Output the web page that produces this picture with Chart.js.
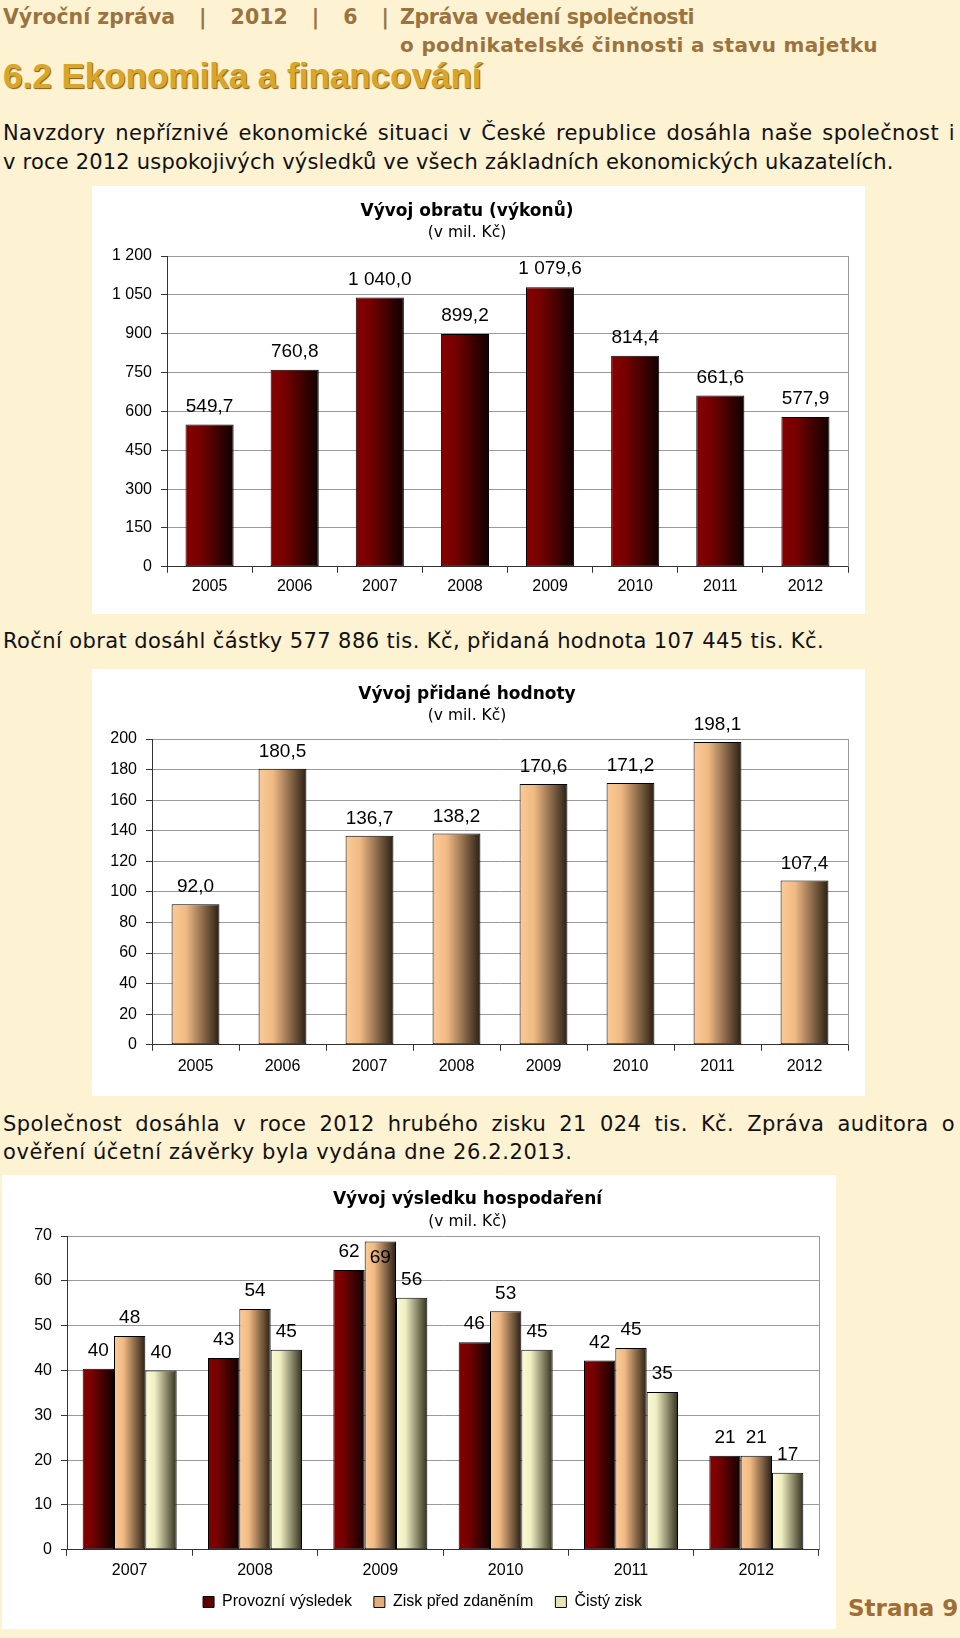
<!DOCTYPE html>
<html lang="cs">
<head>
<meta charset="utf-8">
<title>Výroční zpráva 2012 – Ekonomika a financování</title>
<script src="https://cdn.jsdelivr.net/npm/chart.js@4.4.1/dist/chart.umd.min.js"></script>
<style>
  html, body { margin: 0; padding: 0; }
  body {
    width: 960px; height: 1638px; position: relative; overflow: hidden;
    background: #fdf2d2; color: #111;
    font-family: 'DejaVu Sans', Verdana, sans-serif;
  }
  .line { position: absolute; white-space: nowrap; }
  .head { font-weight: bold; color: #9a7440; font-size: 20.5px; line-height: 24px; }
  .sect { font-family: 'Liberation Sans', Arial, sans-serif; font-weight: bold; color: #d9a62b;
          font-size: 35px; line-height: 40px; text-shadow: 1px 1px 1px #7d5c14; }
  .txt { font-size: 21px; line-height: 26px; letter-spacing: 0.4px; }
  .just { text-align: justify; text-align-last: justify; white-space: normal; }
  .keep { display: inline-block; }
  .page { font-weight: bold; color: #a06d35; font-size: 23px; line-height: 28px; }
  .box { position: absolute; background: #fff; }
  .box canvas { display: block; }
</style>
</head>
<body>
<div class="line head just" style="left:3px; top:5px; width:386px;"><span class="keep">Výroční zpráva</span> | 2012 | 6 |</div>
<div class="line head" style="left:400px; top:5px; letter-spacing:-0.4px;">Zpráva vedení společnosti</div>
<div class="line head" style="left:400px; top:33px; font-size:20px; letter-spacing:0.35px;">o podnikatelské činnosti a stavu majetku</div>
<div class="line sect" style="left:3px; top:56px;">6.2 Ekonomika a financování</div>

<div class="line txt just" style="left:3px; top:120px; width:952px;">Navzdory nepříznivé ekonomické situaci v České republice dosáhla naše společnost i</div>
<div class="line txt" style="left:3px; top:149px; letter-spacing:0.2px;">v roce 2012 uspokojivých výsledků ve všech základních ekonomických ukazatelích.</div>

<div class="box" style="left:92px; top:186px; width:773px; height:428px;">
  <canvas id="obratChart" width="773" height="428"></canvas>
</div>

<div class="line txt" style="left:3px; top:628px;">Roční obrat dosáhl částky 577 886 tis. Kč, přidaná hodnota 107 445 tis. Kč.</div>

<div class="box" style="left:92px; top:669px; width:773px; height:427px;">
  <canvas id="pridanaChart" width="773" height="427"></canvas>
</div>

<div class="line txt just" style="left:3px; top:1111px; width:952px;">Společnost dosáhla v roce 2012 hrubého zisku 21 024 tis. Kč. Zpráva auditora o</div>
<div class="line txt" style="left:3px; top:1139px; letter-spacing:0.6px;">ověření účetní závěrky byla vydána dne 26.2.2013.</div>

<div class="box" style="left:2px; top:1175px; width:834px; height:454px;">
  <canvas id="vysledekChart" width="834" height="454"></canvas>
</div>

<div class="line page" style="left:848px; top:1594px;">Strana 9</div>

<script>
// data
const years = ['2005', '2006', '2007', '2008', '2009', '2010', '2011', '2012'];
const obrat = [549.7, 760.8, 1040.0, 899.2, 1079.6, 814.4, 661.6, 577.9];
const pridanaHodnota = [92.0, 180.5, 136.7, 138.2, 170.6, 171.2, 198.1, 107.4];

const yearsHosp = ['2007', '2008', '2009', '2010', '2011', '2012'];
const provozniVysledek = [40.4, 42.8, 62.4, 46.3, 42.2, 21.0];
const ziskPredZdanenim = [47.7, 53.7, 68.8, 53.2, 45.0, 21.0];
const cistyZisk = [40.0, 44.6, 56.2, 44.6, 35.2, 17.2];

const ticksObrat = [0, 1200, 150];
const ticksPridana = [0, 200, 20];
const ticksHosp = [0, 70, 10];

// bar shading (left -> right)
const RED = [[0, '#880000'], [0.3, '#760000'], [1, '#100000']];
const PEACH = [[0, '#fbcb98'], [0.3, '#f1ba84'], [1, '#2a1f13']];
const CREAM = [[0, '#fafad6'], [0.3, '#f0efc2'], [1, '#33301d']];

Chart.defaults.font.family = "'Liberation Sans', Arial, sans-serif";
Chart.defaults.font.size = 16;
Chart.defaults.color = '#000';
Chart.defaults.animation = false;

function fmtNum(v, dec) {
    const parts = v.toFixed(dec).split('.');
    const whole = parts[0].replace(/\B(?=(\d{3})+(?!\d))/g, ' ');
    return parts[1] ? whole + ',' + parts[1] : whole;
}

// horizontal gradient on every bar
const barGradient = {
    id: 'barGradient',
    beforeDatasetsDraw(chart) {
        const ctx = chart.ctx;
        chart.data.datasets.forEach((ds, i) => {
            if (!ds.shade) return;
            chart.getDatasetMeta(i).data.forEach(bar => {
                const x0 = bar.x - bar.width / 2;
                const g = ctx.createLinearGradient(x0, 0, x0 + bar.width, 0);
                ds.shade.forEach(s => g.addColorStop(s[0], s[1]));
                bar.options = Object.assign({}, bar.options, { backgroundColor: g });
            });
        });
    }
};

// grey line closing the plot on the right
const plotFrame = {
    id: 'plotFrame',
    beforeDatasetsDraw(chart) {
        const { ctx, chartArea } = chart;
        ctx.save();
        ctx.strokeStyle = '#999';
        ctx.lineWidth = 1;
        ctx.beginPath();
        ctx.moveTo(Math.round(chartArea.right) + 0.5, chartArea.top);
        ctx.lineTo(Math.round(chartArea.right) + 0.5, chartArea.bottom);
        ctx.stroke();
        ctx.restore();
    }
};

// value labels above bars
function valueLabels(format, offset, keepInside) {
    return {
        id: 'valueLabels',
        afterDatasetsDraw(chart) {
            const ctx = chart.ctx;
            ctx.save();
            ctx.font = "19px 'Liberation Sans', Arial, sans-serif";
            ctx.fillStyle = '#000';
            ctx.textAlign = 'center';
            ctx.textBaseline = 'middle';
            chart.data.datasets.forEach((ds, i) => {
                chart.getDatasetMeta(i).data.forEach((bar, j) => {
                    let y = bar.y - offset;
                    if (keepInside && y < chart.chartArea.top) y = bar.y + 16;
                    ctx.fillText(format(ds.data[j]), bar.x, y);
                });
            });
            ctx.restore();
        }
    };
}

// move title / subtitle / legend (the originals are not centred)
function shiftBoxes(titleDx, legendDx, legendDy) {
    return {
        id: 'shiftBoxes',
        afterLayout(chart) {
            chart.boxes.forEach(b => {
                if (typeof b._drawArgs === 'function') { b.left += titleDx; b.right += titleDx; }
            });
            const lg = chart.legend;
            if (lg && lg.options.display) {
                lg.left += legendDx; lg.right += legendDx;
                lg.top += legendDy; lg.bottom += legendDy + 30;
            }
        }
    };
}

function yScale(range, width, fmt) {
    return {
        min: range[0],
        max: range[1],
        ticks: { stepSize: range[2], padding: 9, color: '#000', font: { size: 16 }, callback: v => fmt(v) },
        grid: { color: '#9a9a9a', tickColor: '#333', tickLength: 6 },
        border: { color: '#333' },
        afterFit(scale) { scale.width = width; }
    };
}

function xScale(pad) {
    return {
        ticks: { padding: pad, color: '#000', font: { size: 16 } },
        grid: { offset: true, drawOnChartArea: false, tickLength: 6, color: '#333' },
        border: { color: '#333' }
    };
}

function titles(text, top, gap, bottom) {
    return {
        title: {
            display: true, text: text, color: '#000',
            font: { family: "'DejaVu Sans', Verdana, sans-serif", size: 17, weight: 'bold' },
            padding: { top: top, bottom: 0 }
        },
        subtitle: {
            display: true, text: '(v mil. Kč)', color: '#000',
            font: { family: "'DejaVu Sans', Verdana, sans-serif", size: 15.5, weight: 'normal' },
            padding: { top: gap, bottom: bottom }
        }
    };
}

// Vývoj obratu
new Chart(document.getElementById('obratChart'), {
    type: 'bar',
    data: {
        labels: years,
        datasets: [{
            label: 'Obrat',
            data: obrat,
            backgroundColor: '#6a0000',
            shade: RED,
            borderColor: '#000',
            borderWidth: 1,
            borderSkipped: false,
            categoryPercentage: 1,
            barPercentage: 0.565
        }]
    },
    options: {
        responsive: false,
        layout: { padding: { left: 0, right: 17, top: 0, bottom: 14 } },
        scales: {
            x: xScale(4),
            y: yScale(ticksObrat, 75, v => fmtNum(v, 0))
        },
        plugins: Object.assign({ legend: { display: false }, tooltip: { enabled: false } },
            titles('Vývoj obratu (výkonů)', 15, 2, 14))
    },
    plugins: [barGradient, plotFrame, valueLabels(v => fmtNum(v, 1), 18, false), shiftBoxes(-3, 0, 0)]
});

// Vývoj přidané hodnoty
new Chart(document.getElementById('pridanaChart'), {
    type: 'bar',
    data: {
        labels: years,
        datasets: [{
            label: 'Přidaná hodnota',
            data: pridanaHodnota,
            backgroundColor: '#e6b07c',
            shade: PEACH,
            borderColor: '#000',
            borderWidth: 1,
            borderSkipped: false,
            categoryPercentage: 1,
            barPercentage: 0.55
        }]
    },
    options: {
        responsive: false,
        layout: { padding: { left: 0, right: 17, top: 0, bottom: 14 } },
        scales: {
            x: xScale(6),
            y: yScale(ticksPridana, 60, v => fmtNum(v, 0))
        },
        plugins: Object.assign({ legend: { display: false }, tooltip: { enabled: false } },
            titles('Vývoj přidané hodnoty', 15, 2, 14))
    },
    plugins: [barGradient, plotFrame, valueLabels(v => fmtNum(v, 1), 17, false), shiftBoxes(-3, 0, 0)]
});

// Vývoj výsledku hospodaření
function hospSet(label, data, base, shade) {
    return {
        label: label,
        data: data,
        backgroundColor: base,
        shade: shade,
        borderColor: '#000',
        borderWidth: 1,
        borderSkipped: false,
        categoryPercentage: 0.75,
        barPercentage: 1
    };
}

new Chart(document.getElementById('vysledekChart'), {
    type: 'bar',
    data: {
        labels: yearsHosp,
        datasets: [
            hospSet('Provozní výsledek', provozniVysledek, '#5e0000', RED),
            hospSet('Zisk před zdaněním', ziskPredZdanenim, '#e3ad7a', PEACH),
            hospSet('Čistý zisk', cistyZisk, '#e6e5b6', CREAM)
        ]
    },
    options: {
        responsive: false,
        layout: { padding: { left: 0, right: 17, top: 0, bottom: 14 } },
        scales: {
            x: xScale(5),
            y: yScale(ticksHosp, 65, v => fmtNum(v, 0))
        },
        plugins: Object.assign({
            legend: {
                position: 'bottom',
                maxHeight: 30,
                labels: { boxWidth: 11, boxHeight: 11, padding: 22, color: '#000', font: { size: 16 } }
            },
            tooltip: { enabled: false }
        }, titles('Vývoj výsledku hospodaření', 14, 3, 5))
    },
    plugins: [barGradient, plotFrame, valueLabels(v => fmtNum(v, 0), 18, true), shiftBoxes(57, 12, -13)]
});
</script>
</body>
</html>
